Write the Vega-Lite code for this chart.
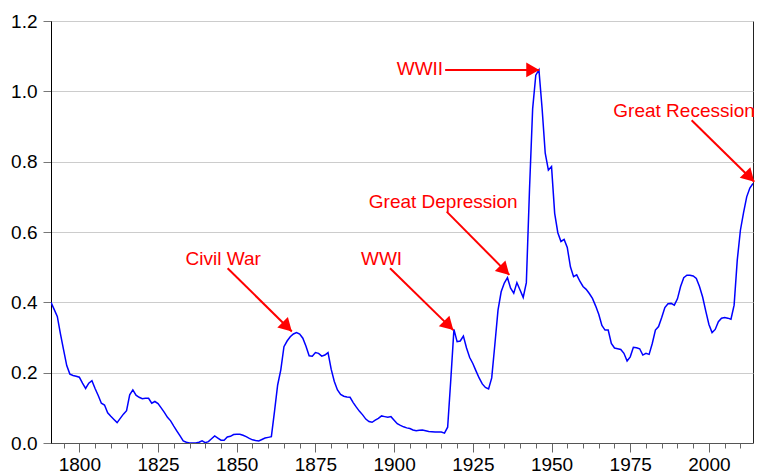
{
  "$schema": "https://vega.github.io/schema/vega-lite/v6.json",
  "width": 702,
  "height": 422,
  "autosize": "none",
  "padding": {"left": 51, "top": 21, "right": 4, "bottom": 33},
  "background": "white",
  "config": {
    "view": {"stroke": "#222222", "strokeWidth": 1},
    "font": "Liberation Sans"
  },
  "datasets": {
    "series": [
      {"year":1791,"ratio":0.400},{"year":1792,"ratio":0.380},{"year":1793,"ratio":0.360},{"year":1794,"ratio":0.310},{"year":1795,"ratio":0.265},
      {"year":1796,"ratio":0.220},{"year":1797,"ratio":0.196},{"year":1798,"ratio":0.192},{"year":1799,"ratio":0.190},{"year":1800,"ratio":0.187},
      {"year":1801,"ratio":0.170},{"year":1802,"ratio":0.155},{"year":1803,"ratio":0.170},{"year":1804,"ratio":0.177},{"year":1805,"ratio":0.155},
      {"year":1806,"ratio":0.135},{"year":1807,"ratio":0.113},{"year":1808,"ratio":0.108},{"year":1809,"ratio":0.086},{"year":1810,"ratio":0.076},
      {"year":1811,"ratio":0.067},{"year":1812,"ratio":0.058},{"year":1813,"ratio":0.070},{"year":1814,"ratio":0.082},{"year":1815,"ratio":0.092},
      {"year":1816,"ratio":0.137},{"year":1817,"ratio":0.151},{"year":1818,"ratio":0.136},{"year":1819,"ratio":0.130},{"year":1820,"ratio":0.126},
      {"year":1821,"ratio":0.127},{"year":1822,"ratio":0.127},{"year":1823,"ratio":0.113},{"year":1824,"ratio":0.118},{"year":1825,"ratio":0.112},
      {"year":1826,"ratio":0.100},{"year":1827,"ratio":0.087},{"year":1828,"ratio":0.073},{"year":1829,"ratio":0.063},{"year":1830,"ratio":0.048},
      {"year":1831,"ratio":0.034},{"year":1832,"ratio":0.020},{"year":1833,"ratio":0.006},{"year":1834,"ratio":0.002},{"year":1835,"ratio":0.000},
      {"year":1836,"ratio":0.000},{"year":1837,"ratio":0.000},{"year":1838,"ratio":0.002},{"year":1839,"ratio":0.006},{"year":1840,"ratio":0.001},
      {"year":1841,"ratio":0.004},{"year":1842,"ratio":0.012},{"year":1843,"ratio":0.020},{"year":1844,"ratio":0.014},{"year":1845,"ratio":0.008},
      {"year":1846,"ratio":0.008},{"year":1847,"ratio":0.017},{"year":1848,"ratio":0.019},{"year":1849,"ratio":0.024},{"year":1850,"ratio":0.025},
      {"year":1851,"ratio":0.025},{"year":1852,"ratio":0.022},{"year":1853,"ratio":0.018},{"year":1854,"ratio":0.013},{"year":1855,"ratio":0.009},
      {"year":1856,"ratio":0.007},{"year":1857,"ratio":0.006},{"year":1858,"ratio":0.010},{"year":1859,"ratio":0.014},{"year":1860,"ratio":0.016},
      {"year":1861,"ratio":0.018},{"year":1862,"ratio":0.090},{"year":1863,"ratio":0.165},{"year":1864,"ratio":0.208},{"year":1865,"ratio":0.274},
      {"year":1866,"ratio":0.290},{"year":1867,"ratio":0.302},{"year":1868,"ratio":0.310},{"year":1869,"ratio":0.314},{"year":1870,"ratio":0.310},
      {"year":1871,"ratio":0.298},{"year":1872,"ratio":0.275},{"year":1873,"ratio":0.248},{"year":1874,"ratio":0.247},{"year":1875,"ratio":0.257},
      {"year":1876,"ratio":0.255},{"year":1877,"ratio":0.247},{"year":1878,"ratio":0.250},{"year":1879,"ratio":0.257},{"year":1880,"ratio":0.210},
      {"year":1881,"ratio":0.175},{"year":1882,"ratio":0.151},{"year":1883,"ratio":0.138},{"year":1884,"ratio":0.133},{"year":1885,"ratio":0.131},
      {"year":1886,"ratio":0.130},{"year":1887,"ratio":0.115},{"year":1888,"ratio":0.102},{"year":1889,"ratio":0.090},{"year":1890,"ratio":0.080},
      {"year":1891,"ratio":0.068},{"year":1892,"ratio":0.061},{"year":1893,"ratio":0.059},{"year":1894,"ratio":0.065},{"year":1895,"ratio":0.070},
      {"year":1896,"ratio":0.077},{"year":1897,"ratio":0.075},{"year":1898,"ratio":0.073},{"year":1899,"ratio":0.075},{"year":1900,"ratio":0.065},
      {"year":1901,"ratio":0.055},{"year":1902,"ratio":0.050},{"year":1903,"ratio":0.046},{"year":1904,"ratio":0.043},{"year":1905,"ratio":0.041},
      {"year":1906,"ratio":0.037},{"year":1907,"ratio":0.035},{"year":1908,"ratio":0.036},{"year":1909,"ratio":0.037},{"year":1910,"ratio":0.035},
      {"year":1911,"ratio":0.033},{"year":1912,"ratio":0.032},{"year":1913,"ratio":0.031},{"year":1914,"ratio":0.031},{"year":1915,"ratio":0.031},
      {"year":1916,"ratio":0.028},{"year":1917,"ratio":0.045},{"year":1918,"ratio":0.180},{"year":1919,"ratio":0.323},{"year":1920,"ratio":0.288},
      {"year":1921,"ratio":0.290},{"year":1922,"ratio":0.304},{"year":1923,"ratio":0.270},{"year":1924,"ratio":0.243},{"year":1925,"ratio":0.226},
      {"year":1926,"ratio":0.205},{"year":1927,"ratio":0.185},{"year":1928,"ratio":0.168},{"year":1929,"ratio":0.158},{"year":1930,"ratio":0.154},
      {"year":1931,"ratio":0.185},{"year":1932,"ratio":0.280},{"year":1933,"ratio":0.378},{"year":1934,"ratio":0.430},{"year":1935,"ratio":0.455},
      {"year":1936,"ratio":0.470},{"year":1937,"ratio":0.440},{"year":1938,"ratio":0.426},{"year":1939,"ratio":0.456},{"year":1940,"ratio":0.435},
      {"year":1941,"ratio":0.414},{"year":1942,"ratio":0.456},{"year":1943,"ratio":0.720},{"year":1944,"ratio":0.950},{"year":1945,"ratio":1.046},
      {"year":1946,"ratio":1.061},{"year":1947,"ratio":0.952},{"year":1948,"ratio":0.824},{"year":1949,"ratio":0.776},{"year":1950,"ratio":0.786},
      {"year":1951,"ratio":0.653},{"year":1952,"ratio":0.598},{"year":1953,"ratio":0.573},{"year":1954,"ratio":0.579},{"year":1955,"ratio":0.556},
      {"year":1956,"ratio":0.501},{"year":1957,"ratio":0.473},{"year":1958,"ratio":0.478},{"year":1959,"ratio":0.460},{"year":1960,"ratio":0.445},
      {"year":1961,"ratio":0.437},{"year":1962,"ratio":0.425},{"year":1963,"ratio":0.411},{"year":1964,"ratio":0.390},{"year":1965,"ratio":0.366},
      {"year":1966,"ratio":0.334},{"year":1967,"ratio":0.321},{"year":1968,"ratio":0.321},{"year":1969,"ratio":0.283},{"year":1970,"ratio":0.270},
      {"year":1971,"ratio":0.268},{"year":1972,"ratio":0.266},{"year":1973,"ratio":0.255},{"year":1974,"ratio":0.233},{"year":1975,"ratio":0.245},
      {"year":1976,"ratio":0.272},{"year":1977,"ratio":0.271},{"year":1978,"ratio":0.268},{"year":1979,"ratio":0.250},{"year":1980,"ratio":0.255},
      {"year":1981,"ratio":0.252},{"year":1982,"ratio":0.283},{"year":1983,"ratio":0.321},{"year":1984,"ratio":0.331},{"year":1985,"ratio":0.357},
      {"year":1986,"ratio":0.385},{"year":1987,"ratio":0.396},{"year":1988,"ratio":0.397},{"year":1989,"ratio":0.392},{"year":1990,"ratio":0.410},
      {"year":1991,"ratio":0.445},{"year":1992,"ratio":0.470},{"year":1993,"ratio":0.477},{"year":1994,"ratio":0.477},{"year":1995,"ratio":0.475},
      {"year":1996,"ratio":0.468},{"year":1997,"ratio":0.445},{"year":1998,"ratio":0.415},{"year":1999,"ratio":0.375},{"year":2000,"ratio":0.337},
      {"year":2001,"ratio":0.314},{"year":2002,"ratio":0.323},{"year":2003,"ratio":0.345},{"year":2004,"ratio":0.355},{"year":2005,"ratio":0.357},
      {"year":2006,"ratio":0.355},{"year":2007,"ratio":0.352},{"year":2008,"ratio":0.392},{"year":2009,"ratio":0.520},{"year":2010,"ratio":0.605},
      {"year":2011,"ratio":0.655},{"year":2012,"ratio":0.700},{"year":2013,"ratio":0.725},{"year":2014,"ratio":0.738}
    ],
    "notes": [
      {"label":"Civil War","tx":1845.7,"ty":0.506,"x1":1847.1,"y1":0.497,"x2":1867.5,"y2":0.317},
      {"label":"WWI","tx":1896.0,"ty":0.506,"x1":1898.7,"y1":0.497,"x2":1918.8,"y2":0.321},
      {"label":"Great Depression","tx":1915.6,"ty":0.667,"x1":1916.7,"y1":0.658,"x2":1936.6,"y2":0.478},
      {"label":"WWII","tx":1908.2,"ty":1.046,"x1":1916.2,"y1":1.061,"x2":1946.1,"y2":1.061},
      {"label":"Great Recession","tx":1992.1,"ty":0.928,"x1":1994.5,"y1":0.918,"x2":2014.4,"y2":0.743}
    ]
  },
  "resolve": {"axis": {"x": "independent"}},
  "layer": [
    {
      "data": {"name": "series"},
      "mark": {"type": "line", "color": "#0000ff", "strokeWidth": 1.5, "clip": true},
      "encoding": {
        "x": {
          "field": "year", "type": "quantitative", "title": null,
          "scale": {"domain": [1791, 2014], "nice": false, "zero": false},
          "axis": {
            "orient": "bottom",
            "values": [1800, 1825, 1850, 1875, 1900, 1925, 1950, 1975, 2000],
            "format": "d",
            "grid": false,
            "domainColor": "#555555",
            "tickColor": "#666666",
            "tickSize": 9,
            "labelFontSize": 19,
            "labelColor": "#000000",
            "labelPadding": 3,
            "labelFlush": false,
            "labelOverlap": false
          }
        },
        "y": {
          "field": "ratio", "type": "quantitative", "title": null,
          "scale": {"domain": [0, 1.2], "nice": false},
          "axis": {
            "values": [0, 0.2, 0.4, 0.6, 0.8, 1.0, 1.2],
            "format": ".1f",
            "grid": true,
            "gridColor": "#cccccc",
            "gridWidth": 1,
            "domainColor": "#000000",
            "tickColor": "#777777",
            "tickSize": 8,
            "labelFontSize": 19,
            "labelColor": "#000000",
            "labelPadding": 6,
            "labelFlush": false,
            "labelOverlap": false
          }
        }
      }
    },
    {
      "data": {"name": "series"},
      "mark": {"type": "point", "opacity": 0},
      "encoding": {
        "x": {
          "field": "year", "type": "quantitative", "title": null,
          "axis": {
            "orient": "bottom",
            "values": [1795,1805,1810,1815,1820,1830,1835,1840,1845,1855,1860,1865,1870,1880,1885,1890,1895,1905,1910,1915,1920,1930,1935,1940,1945,1955,1960,1965,1970,1980,1985,1990,1995,2005,2010],
            "labels": false,
            "domain": false,
            "grid": false,
            "tickColor": "#666666",
            "tickSize": 5
          }
        },
        "y": {"field": "ratio", "type": "quantitative", "title": null}
      }
    },
    {
      "data": {"name": "notes"},
      "mark": {"type": "rule", "color": "#ff0000", "strokeWidth": 2, "clip": false},
      "encoding": {
        "x": {"field": "x1", "type": "quantitative", "title": null, "axis": null},
        "y": {"field": "y1", "type": "quantitative", "title": null},
        "x2": {"field": "x2"},
        "y2": {"field": "y2"}
      }
    },
    {
      "data": {"name": "notes"},
      "transform": [{"filter": "datum.label !== 'WWII'"}],
      "mark": {"type": "point", "shape": "M0,0L-1.15,2L1.15,2Z", "filled": true, "color": "#ff0000", "opacity": 1, "size": 169, "angle": 135, "clip": false},
      "encoding": {
        "x": {"field": "x2", "type": "quantitative", "title": null, "axis": null},
        "y": {"field": "y2", "type": "quantitative", "title": null}
      }
    },
    {
      "data": {"name": "notes"},
      "transform": [{"filter": "datum.label === 'WWII'"}],
      "mark": {"type": "point", "shape": "M0,0L-1.15,2L1.15,2Z", "filled": true, "color": "#ff0000", "opacity": 1, "size": 169, "angle": 90, "clip": false},
      "encoding": {
        "x": {"field": "x2", "type": "quantitative", "title": null, "axis": null},
        "y": {"field": "y2", "type": "quantitative", "title": null}
      }
    },
    {
      "data": {"name": "notes"},
      "mark": {"type": "text", "color": "#ff0000", "fontSize": 19, "baseline": "alphabetic", "align": "center", "clip": false},
      "encoding": {
        "x": {"field": "tx", "type": "quantitative", "title": null, "axis": null},
        "y": {"field": "ty", "type": "quantitative", "title": null},
        "text": {"field": "label"}
      }
    }
  ]
}
